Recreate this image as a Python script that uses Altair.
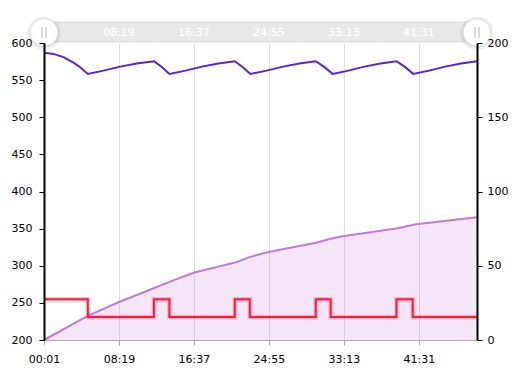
import altair as alt
import pandas as pd

# ---- data (time in seconds) ----
# purple line, left axis
p_t = [1, 64, 130, 197, 241, 292, 396, 507, 617, 732, 783, 834,
       942, 1050, 1159, 1268, 1320, 1372, 1480, 1589, 1697, 1806,
       1862, 1918, 2023, 2129, 2236, 2342, 2398, 2453, 2559, 2665, 2771, 2877]
p_v = [587, 585.3, 581, 573.6, 567.4, 558.4, 562.8, 568.2, 572.3, 575.5, 567.8, 558.4,
       562.8, 568.2, 572.3, 575.5, 567.8, 558.4, 562.8, 568.2, 572.3, 575.5,
       567.8, 558.4, 562.8, 568.2, 572.3, 575.5, 567.8, 558.4, 562.8, 568.2, 572.3, 575.5]

# red step line, left axis
r_t = [1, 292, 731, 834, 1268, 1368, 1806, 1905, 2342, 2450, 2877]
r_v = [255, 231, 255, 231, 255, 231, 255, 231, 255, 231, 231]

# light purple area, right axis
a_t = [1, 292, 507, 635, 733, 856, 1000, 1277, 1366, 1499, 1809, 1897, 1964, 2350, 2472, 2877]
a_v = [0, 16.2, 25.9, 31, 35, 40, 45.4, 52.4, 55.8, 59.5, 65.5, 68, 69.5, 75.2, 78, 82.7]

x_ticks = [1, 499, 997, 1495, 1993, 2491]
slider_labels = ["08:19", "16:37", "24:55", "33:13", "41:31"]
handle_t = [1, 2877]
grip_offsets = [-2, 2]

FONT = "DejaVu Sans"

purple_df = pd.DataFrame({"t": p_t, "v": p_v})
red_df = pd.DataFrame({"t": r_t, "v": r_v})
area_df = pd.DataFrame({"t": a_t, "a": a_v})
lab_df = pd.DataFrame({"t": x_ticks[1:], "lab": slider_labels})
handle_df = pd.DataFrame({"t": handle_t})

x_enc = alt.X(
    "t:Q",
    scale=alt.Scale(domain=[1, 2877], nice=False, zero=False),
    axis=alt.Axis(
        values=x_ticks,
        labelExpr="utcFormat(datum.value*1000, '%M:%S')",
        grid=True, gridColor="#e0e0e0",
        domainColor="#aaaaaa", tickColor="#aaaaaa", tickSize=5,
        labelPadding=8, labelFontSize=11, labelColor="#000000",
        labelFont=FONT, title=None, labelFlush=False,
    ),
)

left_scale = alt.Scale(domain=[200, 600], nice=False, zero=False)
right_scale = alt.Scale(domain=[0, 200], nice=False)

area = alt.Chart(area_df).mark_area(color="#c77ed6", opacity=0.2).encode(
    x=x_enc,
    y=alt.Y("a:Q", scale=right_scale, axis=alt.Axis(
        orient="right", values=[0, 50, 100, 150, 200], title=None,
        domainColor="#000000", domainWidth=2, tickColor="#000000", tickSize=5,
        labelPadding=5, labelFontSize=11, labelColor="#000000", labelFont=FONT,
        grid=False, zindex=1)),
)
area_line = alt.Chart(area_df).mark_line(color="#c47ad6", strokeWidth=2).encode(
    x=x_enc, y=alt.Y("a:Q", scale=right_scale, axis=None)
)
red_glow = alt.Chart(red_df).mark_line(color="#ff2a4a", strokeWidth=4.5, opacity=0.25,
                                       interpolate="step-after").encode(
    x=x_enc, y=alt.Y("v:Q", scale=left_scale, axis=None)
)
red = alt.Chart(red_df).mark_line(color="#ff1a3c", strokeWidth=2,
                                  interpolate="step-after").encode(
    x=x_enc, y=alt.Y("v:Q", scale=left_scale, axis=None)
)
purple = alt.Chart(purple_df).mark_line(color="#5b22dd", strokeWidth=2).encode(
    x=x_enc,
    y=alt.Y("v:Q", scale=left_scale, axis=alt.Axis(
        orient="left", values=list(range(200, 601, 50)), title=None,
        domainColor="#000000", domainWidth=2, tickColor="#000000", tickSize=5,
        labelPadding=7, labelFontSize=11, labelColor="#000000", labelFont=FONT,
        grid=False, zindex=1)),
)

band = alt.Chart(pd.DataFrame({"k": [0]})).mark_rect(
    fill="#e8e8e8", stroke="#dcdcdc", strokeWidth=1
).encode(x=alt.value(0), x2=alt.value(433), y=alt.value(-21), y2=alt.value(-1))

band_labels = alt.Chart(lab_df).mark_text(
    color="#ffffff", fontSize=11, font=FONT, baseline="middle", align="center"
).encode(x=x_enc, y=alt.value(-10), text="lab:N")

shadow_outer = alt.Chart(handle_df).mark_point(
    shape="circle", filled=True, fill="#000000", opacity=0.05, size=1150, strokeWidth=0
).encode(x=x_enc, y=alt.value(-9.5))
shadow = alt.Chart(handle_df).mark_point(
    shape="circle", filled=True, fill="#000000", opacity=0.07, size=900, strokeWidth=0
).encode(x=x_enc, y=alt.value(-10))
handles = alt.Chart(handle_df).mark_point(
    shape="circle", filled=True, fill="#ffffff", stroke="#e4e4e4", strokeWidth=1,
    opacity=1, size=760
).encode(x=x_enc, y=alt.value(-10.5))

grips = []
for off in grip_offsets:
    grips.append(
        alt.Chart(handle_df).mark_rule(color="#b4b4b4", strokeWidth=1, xOffset=off).encode(
            x=x_enc, y=alt.value(-16), y2=alt.value(-5)
        )
    )

chart = alt.layer(
    area, area_line, red_glow, red, purple,
    band, band_labels, shadow_outer, shadow, handles, *grips,
).resolve_scale(y="independent").properties(
    width=433, height=297,
    padding={"left": 44, "top": 43, "right": 40, "bottom": 36},
    autosize=alt.AutoSizeParams(type="none"),
    background="#ffffff",
).configure_view(stroke=None)

chart.save("out.html", embed_options={"renderer": "svg", "actions": False})
